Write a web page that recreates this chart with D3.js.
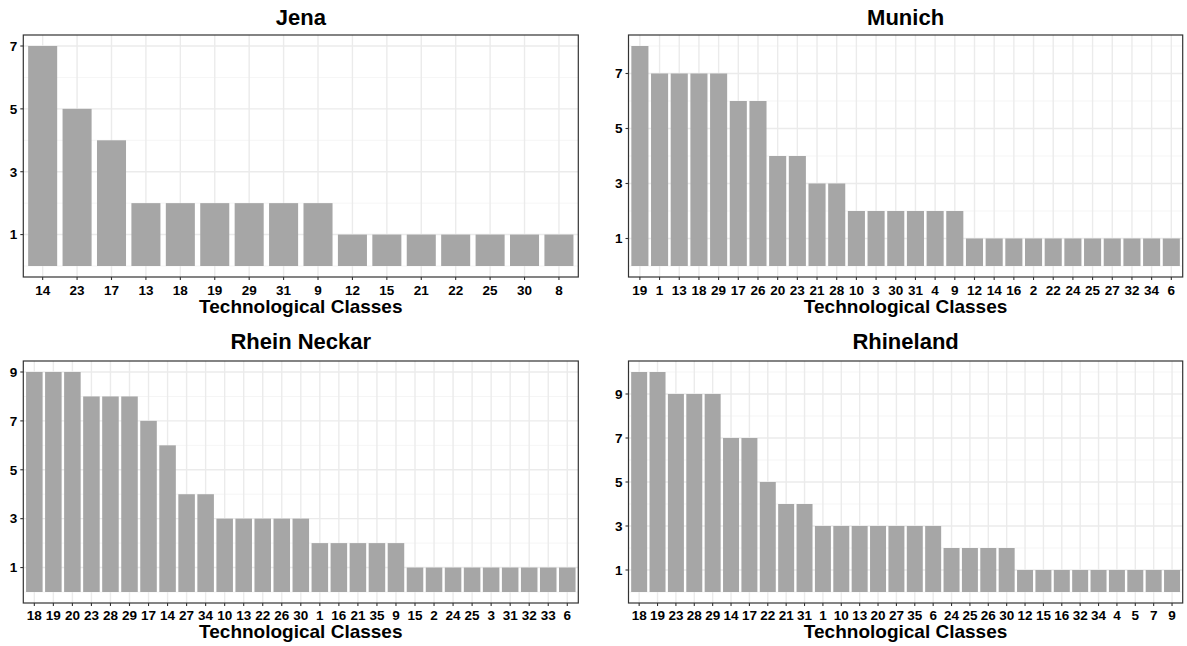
<!DOCTYPE html>
<html>
<head>
<meta charset="utf-8">
<script src="https://cdn.jsdelivr.net/npm/d3@7"></script>
<style>
  html, body { margin: 0; padding: 0; background: #ffffff; }
  svg { display: block; }
  text { font-family: "Liberation Sans", Arial, Helvetica, sans-serif; font-weight: bold; fill: #000; }
</style>
</head>
<body>
<svg id="chart" width="1187" height="646"></svg>
<script>
// ---------- data ----------
const jenaClasses = ["14","23","17","13","18","19","29","31","9","12","15","21","22","25","30","8"];
const jenaCounts  = [7,5,4,2,2,2,2,2,2,1,1,1,1,1,1,1];

const munichClasses = ["19","1","13","18","29","17","26","20","23","21","28","10","3","30","31","4","9","12","14","16","2","22","24","25","27","32","34","6"];
const munichCounts  = [8,7,7,7,7,6,6,4,4,3,3,2,2,2,2,2,2,1,1,1,1,1,1,1,1,1,1,1];

const rheinNeckarClasses = ["18","19","20","23","28","29","17","14","27","34","10","13","22","26","30","1","16","21","35","9","15","2","24","25","3","31","32","33","6"];
const rheinNeckarCounts  = [9,9,9,8,8,8,7,6,4,4,3,3,3,3,3,2,2,2,2,2,1,1,1,1,1,1,1,1,1];

const rhinelandClasses = ["18","19","23","28","29","14","17","22","21","31","1","10","13","20","27","35","6","24","25","26","30","12","15","16","32","34","4","5","7","9"];
const rhinelandCounts  = [10,10,9,9,9,7,7,5,4,4,3,3,3,3,3,3,3,2,2,2,2,1,1,1,1,1,1,1,1,1];

const panelTitles = ["Jena","Munich","Rhein Neckar","Rhineland"];
const yTickValues = [1,3,5,7,9];
const xAxisTitle = "Technological Classes";

// ---------- layout ----------
const svg = d3.select("#chart");
const panels = [
  {title: panelTitles[0], cats: jenaClasses, vals: jenaCounts, x0: 23.3, x1: 578.3, y0: 35, y1: 277, tBase: 25, xlBase: 295, atBase: 313},
  {title: panelTitles[1], cats: munichClasses, vals: munichCounts, x0: 628.5, x1: 1182.7, y0: 35, y1: 277, tBase: 25, xlBase: 295, atBase: 313},
  {title: panelTitles[2], cats: rheinNeckarClasses, vals: rheinNeckarCounts, x0: 23.3, x1: 578.3, y0: 361, y1: 603, tBase: 348.5, xlBase: 619.5, atBase: 638},
  {title: panelTitles[3], cats: rhinelandClasses, vals: rhinelandCounts, x0: 628.5, x1: 1182.7, y0: 361, y1: 603, tBase: 349, xlBase: 619.5, atBase: 638}
];

panels.forEach(p => {
  const g = svg.append("g");
  const n = p.cats.length;
  const maxV = d3.max(p.vals);
  const yPad = maxV * 0.05;
  const y = d3.scaleLinear().domain([-yPad, maxV + yPad]).range([p.y1, p.y0]);
  // discrete axis: expansion 0.6 units on each side, bar width 0.9
  const unit = (p.x1 - p.x0) / (n + 1.2);
  const xc = d3.scalePoint().domain(p.cats).range([p.x0 + 0.6 * unit, p.x1 - 0.6 * unit]);
  const barW = 0.9 * unit;

  g.append("rect").attr("x", p.x0).attr("y", p.y0).attr("width", p.x1 - p.x0).attr("height", p.y1 - p.y0).attr("fill", "#ffffff");

  const minor = d3.range(0, Math.floor(maxV + yPad) + 1, 2).filter(v => v >= -yPad && v <= maxV + yPad);
  g.selectAll(".minor").data(minor).enter().append("line")
    .attr("x1", p.x0).attr("x2", p.x1)
    .attr("y1", d => y(d)).attr("y2", d => y(d))
    .attr("stroke", "#F2F2F2").attr("stroke-width", 0.8);
  const majors = yTickValues.filter(v => v <= maxV + yPad);
  g.selectAll(".majorY").data(majors).enter().append("line")
    .attr("x1", p.x0).attr("x2", p.x1)
    .attr("y1", d => y(d)).attr("y2", d => y(d))
    .attr("stroke", "#EBEBEB").attr("stroke-width", 1.4);
  g.selectAll(".majorX").data(p.cats).enter().append("line")
    .attr("x1", d => xc(d)).attr("x2", d => xc(d))
    .attr("y1", p.y0).attr("y2", p.y1)
    .attr("stroke", "#EBEBEB").attr("stroke-width", 1.4);

  g.selectAll(".bar").data(p.cats.map((c, i) => ({c, v: p.vals[i]}))).enter().append("rect")
    .attr("x", d => xc(d.c) - barW / 2)
    .attr("width", barW)
    .attr("y", d => y(d.v))
    .attr("height", d => y(0) - y(d.v))
    .attr("fill", "#A6A6A6");

  g.append("rect").attr("x", p.x0).attr("y", p.y0).attr("width", p.x1 - p.x0).attr("height", p.y1 - p.y0)
    .attr("fill", "none").attr("stroke", "#333333").attr("stroke-width", 1.2);

  g.selectAll(".ytick").data(majors).enter().append("line")
    .attr("x1", p.x0 - 3).attr("x2", p.x0)
    .attr("y1", d => y(d)).attr("y2", d => y(d))
    .attr("stroke", "#333333").attr("stroke-width", 1.1);
  g.selectAll(".ylab").data(majors).enter().append("text")
    .attr("x", p.x0 - 6).attr("y", d => y(d) + 4.8)
    .attr("text-anchor", "end").attr("font-size", 13.5).text(d => d);

  g.selectAll(".xtick").data(p.cats).enter().append("line")
    .attr("x1", d => xc(d)).attr("x2", d => xc(d))
    .attr("y1", p.y1).attr("y2", p.y1 + 3)
    .attr("stroke", "#333333").attr("stroke-width", 1.1);
  g.selectAll(".xlab").data(p.cats).enter().append("text")
    .attr("x", d => xc(d)).attr("y", p.xlBase)
    .attr("text-anchor", "middle").attr("font-size", 13.5).text(d => d);

  const cx = (p.x0 + p.x1) / 2;
  g.append("text").attr("x", cx).attr("y", p.tBase).attr("text-anchor", "middle").attr("font-size", 22).text(p.title);
  g.append("text").attr("x", cx).attr("y", p.atBase).attr("text-anchor", "middle").attr("font-size", 19).text(xAxisTitle);
});
</script>
</body>
</html>
